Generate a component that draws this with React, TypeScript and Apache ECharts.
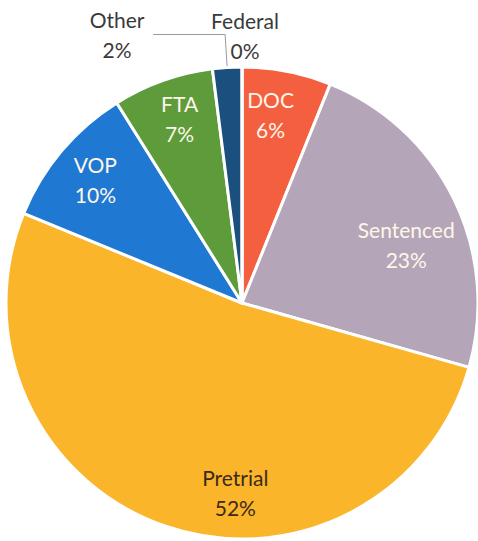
import React, { useEffect, useRef } from "react";
import * as echarts from "echarts";

const categories = ["DOC", "Sentenced", "Pretrial", "VOP", "FTA", "Other", "Federal"];
const shares = [6.1, 23.3, 51.8, 9.9, 6.9, 2.0, 0];
const colors = ["#F4603F", "#B4A6B8", "#FAB52B", "#1F79D3", "#5E9C3B", "#1B4F7E", "#2A4F8A"];

// label styling (not data)
const insideLabelNames = ["DOC", "Sentenced", "Pretrial", "VOP", "FTA"];
const insideLabelColor: Record<string, string> = {
  DOC: "#FFF6EA",
  Sentenced: "#FFF6EA",
  Pretrial: "#3D2A1A",
  VOP: "#FFF6EA",
  FTA: "#FFF6EA",
};
const insideLabelOffset: Record<string, number[]> = {
  DOC: [-8, 0],
  FTA: [2, -4],
  Sentenced: [-8, 26],
  Pretrial: [56, 8],
};

const FONT = "Lato, 'Open Sans', sans-serif";
const FS = 21;
const LH = 30;

const fmt = (p: any) => `${p.name}\n${Math.round(p.percent)}%`;
const fmtRich = (p: any) => `{a|${p.name}}\n{a|${Math.round(p.percent)}%}`;

export default function App() {
  const ref = useRef<HTMLDivElement>(null);
  useEffect(() => {
    document.body.style.margin = "0";
    const chart = echarts.init(ref.current!, undefined, { renderer: "svg" });
    const center = [242, 303];
    const R = 236;

    const mainData = categories.map((name, i) => ({
      name,
      value: shares[i],
      itemStyle: { color: colors[i] },
      label:
        name === "Other"
          ? {
              show: true,
              position: "outside",
              formatter: fmtRich,
              rich: { a: { width: 62, align: "center", fontSize: FS, lineHeight: LH, color: "#3a3a3a", fontFamily: FONT } },
            }
          : { show: false },
      labelLine:
        name === "Other"
          ? { show: true, length: 33, length2: 72, lineStyle: { color: "#9a9a9a", width: 1 } }
          : { show: false },
    }));

    const overlayData = categories.map((name, i) => ({
      name,
      value: shares[i],
      label: insideLabelNames.includes(name)
        ? {
            show: true,
            color: insideLabelColor[name],
            offset: insideLabelOffset[name] || [0, 0],
          }
        : { show: false },
    }));

    const topData = categories.map((name, i) => ({
      name,
      value: shares[i],
      label: name === "Federal" ? { show: true } : { show: false },
    }));

    const option: any = {
      animation: false,
      backgroundColor: "#ffffff",
      series: [
        {
          type: "pie",
          center,
          radius: [0, R],
          startAngle: 90,
          clockwise: true,
          avoidLabelOverlap: false,
          itemStyle: { borderColor: "#ffffff", borderWidth: 3 },
          emphasis: { disabled: true },
          data: mainData,
        },
        {
          type: "pie",
          center,
          radius: [R * 0.6, R],
          startAngle: 90,
          clockwise: true,
          silent: true,
          avoidLabelOverlap: false,
          itemStyle: { color: "transparent", borderWidth: 0 },
          emphasis: { disabled: true },
          label: { position: "inside", formatter: fmt, fontSize: FS, lineHeight: LH, fontFamily: FONT },
          labelLine: { show: false },
          data: overlayData,
        },
        {
          type: "pie",
          center,
          radius: [R + 14, R + 44],
          startAngle: 90,
          clockwise: true,
          silent: true,
          avoidLabelOverlap: false,
          itemStyle: { color: "transparent", borderWidth: 0 },
          emphasis: { disabled: true },
          label: {
            position: "inside",
            formatter: fmt,
            fontSize: FS,
            lineHeight: LH,
            fontFamily: FONT,
            color: "#3a3a3a",
            offset: [3, 0],
          },
          labelLine: { show: false },
          data: topData,
        },
      ],
    };
    chart.setOption(option);
    return () => chart.dispose();
  }, []);
  return <div ref={ref} style={{ width: 478, height: 541 }} />;
}
